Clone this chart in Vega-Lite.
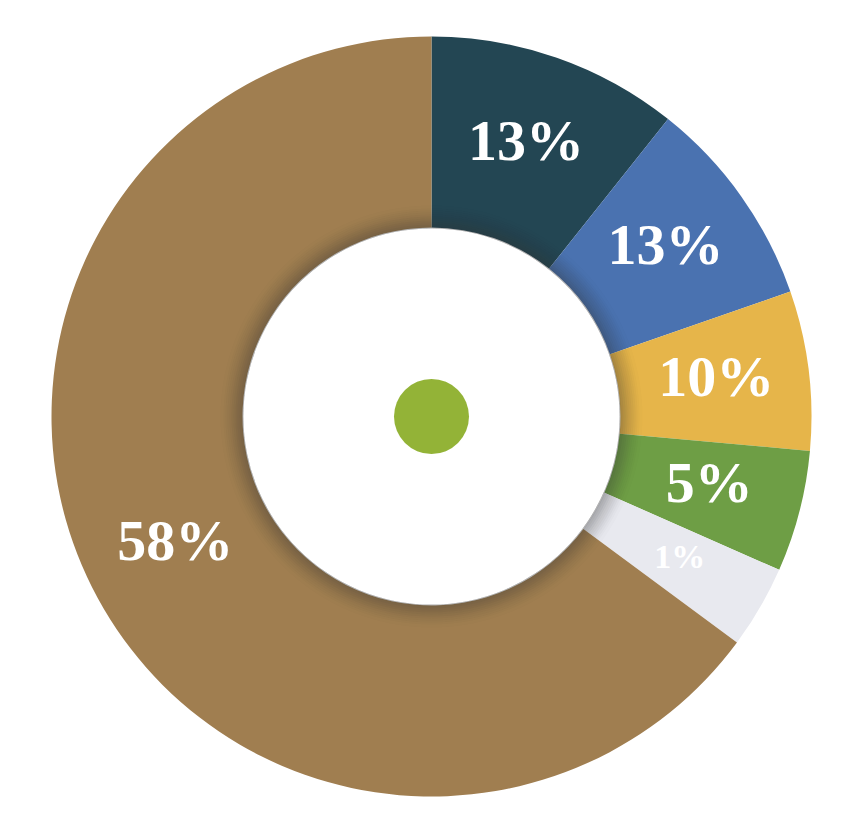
{
  "$schema": "https://vega.github.io/schema/vega-lite/v6.json",
  "width": 863,
  "height": 833,
  "padding": 0,
  "autosize": {"type": "fit", "contains": "padding"},
  "background": "white",
  "view": {"stroke": null},
  "data": {"values": [
    {"k": 1, "cat": "A", "share": 38.5, "label": "13%"},
    {"k": 2, "cat": "B", "share": 32.3, "label": "13%"},
    {"k": 3, "cat": "C", "share": 24.4, "label": "10%"},
    {"k": 4, "cat": "D", "share": 18.6, "label": "5%"},
    {"k": 5, "cat": "E", "share": 12.7, "label": "1%"},
    {"k": 6, "cat": "F", "share": 233.5, "label": "58%"}
  ]},
  "resolve": {"scale": {"theta": "independent"}},
  "layer": [
    {
      "mark": {"type": "arc", "innerRadius": 189, "outerRadius": 380, "stroke": null},
      "encoding": {
        "theta": {"field": "share", "type": "quantitative", "stack": true},
        "order": {"field": "k", "type": "quantitative"},
        "color": {"field": "cat", "type": "nominal", "legend": null,
          "scale": {"domain": ["A","B","C","D","E","F"], "range": ["#234653","#4a72b0","#e6b54a","#6e9e45","#e8e9ef","#a07e50"]}}
      }
    },
    {"data": {"values": [{"s": 1}]}, "mark": {"type": "arc", "innerRadius": 188, "outerRadius": 190, "fill": "#3a3a3a", "opacity": 0.06}, "encoding": {"theta": {"field": "s", "type": "quantitative"}}},
    {"data": {"values": [{"s": 1}]}, "mark": {"type": "arc", "innerRadius": 188, "outerRadius": 192, "fill": "#3a3a3a", "opacity": 0.06}, "encoding": {"theta": {"field": "s", "type": "quantitative"}}},
    {"data": {"values": [{"s": 1}]}, "mark": {"type": "arc", "innerRadius": 188, "outerRadius": 194, "fill": "#3a3a3a", "opacity": 0.05}, "encoding": {"theta": {"field": "s", "type": "quantitative"}}},
    {"data": {"values": [{"s": 1}]}, "mark": {"type": "arc", "innerRadius": 188, "outerRadius": 196, "fill": "#3a3a3a", "opacity": 0.05}, "encoding": {"theta": {"field": "s", "type": "quantitative"}}},
    {"data": {"values": [{"s": 1}]}, "mark": {"type": "arc", "innerRadius": 188, "outerRadius": 198, "fill": "#3a3a3a", "opacity": 0.045}, "encoding": {"theta": {"field": "s", "type": "quantitative"}}},
    {"data": {"values": [{"s": 1}]}, "mark": {"type": "arc", "innerRadius": 188, "outerRadius": 200, "fill": "#3a3a3a", "opacity": 0.04}, "encoding": {"theta": {"field": "s", "type": "quantitative"}}},
    {"data": {"values": [{"s": 1}]}, "mark": {"type": "arc", "innerRadius": 188, "outerRadius": 202, "fill": "#3a3a3a", "opacity": 0.035}, "encoding": {"theta": {"field": "s", "type": "quantitative"}}},
    {"data": {"values": [{"s": 1}]}, "mark": {"type": "arc", "innerRadius": 188, "outerRadius": 204, "fill": "#3a3a3a", "opacity": 0.03}, "encoding": {"theta": {"field": "s", "type": "quantitative"}}},
    {"data": {"values": [{"s": 1}]}, "mark": {"type": "arc", "innerRadius": 188, "outerRadius": 206, "fill": "#3a3a3a", "opacity": 0.025}, "encoding": {"theta": {"field": "s", "type": "quantitative"}}},
    {"data": {"values": [{"s": 1}]}, "mark": {"type": "arc", "innerRadius": 188, "outerRadius": 208, "fill": "#3a3a3a", "opacity": 0.02}, "encoding": {"theta": {"field": "s", "type": "quantitative"}}},
    {"data": {"values": [{"s": 1}]}, "mark": {"type": "arc", "innerRadius": 188, "outerRadius": 211, "fill": "#3a3a3a", "opacity": 0.015}, "encoding": {"theta": {"field": "s", "type": "quantitative"}}},
    {
      "mark": {"type": "text", "radius": 287, "font": "Liberation Serif", "fontWeight": "bold", "fill": "white", "align": "center", "baseline": "middle", "dy": -3},
      "encoding": {
        "theta": {"field": "share", "type": "quantitative", "stack": true},
        "order": {"field": "k", "type": "quantitative"},
        "text": {"field": "label"},
        "size": {"condition": {"test": "datum.k == 5", "value": 34}, "value": 58}
      }
    },
    {"data": {"values": [{"s": 1}]}, "mark": {"type": "arc", "innerRadius": 0, "outerRadius": 37.5, "fill": "#93b337"}, "encoding": {"theta": {"field": "s", "type": "quantitative"}}}
  ]
}
